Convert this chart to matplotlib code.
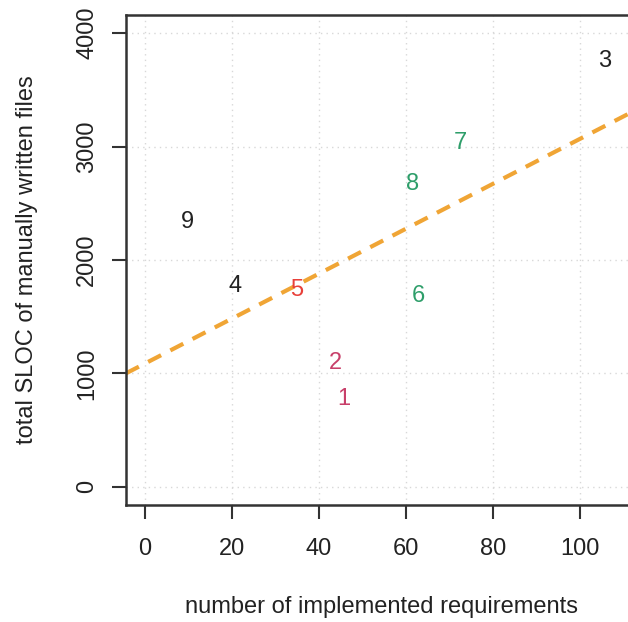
import numpy as np
import matplotlib
matplotlib.use("Agg")
import matplotlib.pyplot as plt

labels = ["1", "2", "3", "4", "5", "6", "7", "8", "9"]
requirements = [45.7, 43.7, 105.7, 20.7, 34.9, 62.8, 72.6, 61.6, 9.7]
sloc = [775, 1093, 3753, 1771, 1736, 1683, 3031, 2670, 2335]
colors = ["#c8406a", "#c8406a", "#222222", "#222222", "#e8403a",
          "#2e9e6a", "#2e9e6a", "#2e9e6a", "#222222"]
xticks = [0, 20, 40, 60, 80, 100]
yticks = [0, 1000, 2000, 3000, 4000]

plt.rcParams['font.family'] = ['Liberation Sans', 'DejaVu Sans']

fig = plt.figure(figsize=(6.28, 6.22), dpi=100)
ax = fig.add_axes([0.2005, 0.188, 0.8228, 0.788])
ax.set_xlim(-4.4, 114.4)
ax.set_ylim(-160, 4160)

ax.set_xticks(xticks)
ax.set_yticks(yticks)
ax.grid(True, color="#d8d8d8", linestyle=(0, (1, 3)), linewidth=1)
ax.set_axisbelow(True)

for lab, x, y, c in zip(labels, requirements, sloc, colors):
    ax.text(x, y, lab, color=c, fontsize=17, ha="center", va="center")

slope, intercept = np.polyfit(requirements, sloc, 1)
xs = np.array([-4.4, 114.4])
ax.plot(xs, intercept + slope * xs, color="#f0a535", linestyle=(0, (3.5, 2.5)),
        linewidth=3)

for s in ["top", "left", "bottom", "right"]:
    ax.spines[s].set_color("#333333")
    ax.spines[s].set_linewidth(1.8)

ax.tick_params(axis="both", direction="out", length=10, width=1.5, color="#333333",
               labelsize=17, labelcolor="#222222")
ax.tick_params(axis="x", pad=14)
ax.tick_params(axis="y", pad=10)
for t in ax.get_yticklabels():
    t.set_rotation(90)
    t.set_va("center")

ax.set_xlabel("number of implemented requirements", fontsize=17, color="#222222")
ax.set_ylabel("total SLOC of manually written files", fontsize=17, color="#222222")
ax.xaxis.set_label_coords((381 - 125.9) / 516.7, -(607 - 505) / 490)
ax.xaxis.label.set_va("center")
ax.yaxis.set_label_coords(-(125.9 - 27) / 516.7, 0.5)
ax.yaxis.label.set_va("center")

fig.savefig("out.png", dpi=100)
